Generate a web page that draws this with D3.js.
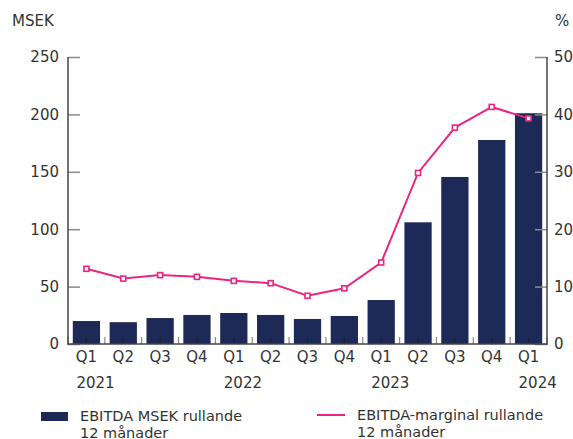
<!DOCTYPE html>
<html>
<head>
<meta charset="utf-8">
<script src="https://cdn.jsdelivr.net/npm/d3@7"></script>
<style>
  body { margin: 0; background: #fff; }
  svg text { font-family: "DejaVu Sans", sans-serif; fill: #333; }
</style>
</head>
<body>
<div id="chart"></div>
<script>
/* data */
var quarters = ["Q1","Q2","Q3","Q4","Q1","Q2","Q3","Q4","Q1","Q2","Q3","Q4","Q1"];
var years = [{at:0, label:"2021"}, {at:4, label:"2022"}, {at:8, label:"2023"}, {at:12, label:"2024"}];
var ebitda = [20, 19, 22.6, 25.3, 27, 25.3, 21.8, 24.4, 38.3, 106, 145.5, 177.7, 201];
var marginal = [13.1, 11.4, 12.0, 11.7, 11.0, 10.6, 8.4, 9.7, 14.2, 29.8, 37.7, 41.3, 39.3];
var leftTicks = [0, 50, 100, 150, 200, 250];
var rightTicks = [0, 10, 20, 30, 40, 50];

var W = 573, H = 439;
var pLeft = 68, pRight = 547, pTop = 57, pBottom = 344;
var navy = "#1d2956", pink = "#ec2580";

var svg = d3.select("#chart").append("svg").attr("width", W).attr("height", H);

var x = d3.scaleBand().domain(d3.range(quarters.length)).range([pLeft, pRight])
  .paddingInner(0.26).paddingOuter(0.13);
var yL = d3.scaleLinear().domain([0, 250]).range([pBottom, pTop]);
var yR = d3.scaleLinear().domain([0, 50]).range([pBottom, pTop]);
var step = x.step();
var mid = function(i) { return x(i) + x.bandwidth() / 2; };

// bars
svg.append("g").selectAll("rect").data(ebitda).enter().append("rect")
  .attr("x", function(d, i) { return x(i); })
  .attr("y", function(d) { return yL(d); })
  .attr("width", x.bandwidth())
  .attr("height", function(d) { return pBottom - yL(d); })
  .attr("fill", navy);

// x ticks: boundaries (gray) and centers (dark)
var ticks = svg.append("g");
ticks.selectAll("line.b").data(d3.range(quarters.length + 1)).enter().append("line")
  .attr("class", "b")
  .attr("x1", function(i) { return pLeft + i * step; })
  .attr("x2", function(i) { return pLeft + i * step; })
  .attr("y1", pBottom).attr("y2", pBottom - 7)
  .attr("stroke", "#8a8a8a").attr("stroke-width", 1.2);
ticks.selectAll("line.c").data(d3.range(quarters.length)).enter().append("line")
  .attr("class", "c")
  .attr("x1", mid).attr("x2", mid)
  .attr("y1", pBottom).attr("y2", pBottom - 7)
  .attr("stroke", "#222").attr("stroke-width", 1);

// y axes
var axL = svg.append("g").attr("transform", "translate(" + pLeft + ",0)")
  .call(d3.axisRight(yL).tickValues(leftTicks).tickSize(12).tickFormat(""));
var axR = svg.append("g").attr("transform", "translate(" + pRight + ",0)")
  .call(d3.axisLeft(yR).tickValues(rightTicks).tickSize(12).tickFormat(""));
[axL, axR].forEach(function(a) {
  a.select(".domain").remove();
  a.selectAll(".tick line").attr("stroke", "#8a8a8a").attr("stroke-width", 1.5);
});

svg.append("line").attr("x1", pLeft).attr("x2", pLeft).attr("y1", pTop).attr("y2", pBottom + 1)
  .attr("stroke", "#444").attr("stroke-width", 1.5);
svg.append("line").attr("x1", pRight).attr("x2", pRight).attr("y1", pTop).attr("y2", pBottom + 1)
  .attr("stroke", "#444").attr("stroke-width", 1.5);
svg.append("line").attr("x1", pLeft).attr("x2", pRight).attr("y1", pBottom).attr("y2", pBottom)
  .attr("stroke", "#444").attr("stroke-width", 1.5);

// y labels
svg.append("g").selectAll("text").data(leftTicks).enter().append("text")
  .attr("x", 59).attr("y", function(d) { return yL(d); }).attr("dy", "0.36em")
  .attr("text-anchor", "end").attr("font-size", 15).text(function(d) { return d; });
svg.append("g").selectAll("text").data(rightTicks).enter().append("text")
  .attr("x", 554).attr("y", function(d) { return yR(d); }).attr("dy", "0.36em")
  .attr("font-size", 15).text(function(d) { return d; });

svg.append("text").attr("x", 12).attr("y", 26).attr("font-size", 15).text("MSEK");
svg.append("text").attr("x", 555).attr("y", 26).attr("font-size", 15).text("%");

// x labels
svg.append("g").selectAll("text").data(quarters).enter().append("text")
  .attr("x", function(d, i) { return mid(i); })
  .attr("y", 362).attr("text-anchor", "middle").attr("font-size", 15)
  .text(function(d) { return d; });
svg.append("g").selectAll("text").data(years).enter().append("text")
  .attr("x", function(d) { return mid(d.at) - 10; })
  .attr("y", 388).attr("font-size", 15)
  .text(function(d) { return d.label; });

// line
var line = d3.line()
  .x(function(d, i) { return mid(i); })
  .y(function(d) { return yR(d); });
svg.append("path").datum(marginal).attr("d", line)
  .attr("fill", "none").attr("stroke", pink).attr("stroke-width", 2);
svg.append("g").selectAll("rect").data(marginal).enter().append("rect")
  .attr("x", function(d, i) { return mid(i) - 2.5; })
  .attr("y", function(d) { return yR(d) - 2.5; })
  .attr("width", 5).attr("height", 5)
  .attr("fill", "#fff").attr("stroke", pink).attr("stroke-width", 1.6);

// legend
svg.append("rect").attr("x", 41).attr("y", 412).attr("width", 27).attr("height", 9).attr("fill", navy);
var t1 = svg.append("text").attr("x", 80).attr("y", 421).attr("font-size", 14.5);
t1.append("tspan").attr("x", 80).text("EBITDA MSEK rullande");
t1.append("tspan").attr("x", 80).attr("dy", 17).text("12 månader");
svg.append("line").attr("x1", 317).attr("x2", 345).attr("y1", 415).attr("y2", 415)
  .attr("stroke", pink).attr("stroke-width", 2);
var t2 = svg.append("text").attr("x", 357).attr("y", 420).attr("font-size", 14.5);
t2.append("tspan").attr("x", 357).text("EBITDA-marginal rullande");
t2.append("tspan").attr("x", 357).attr("dy", 17).text("12 månader");
</script>
</body>
</html>
